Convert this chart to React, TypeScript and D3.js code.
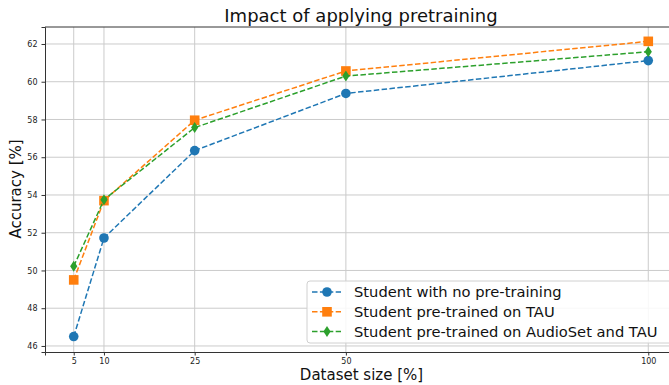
import React, { useEffect, useRef } from 'react';
import * as d3 from 'd3';

const sizes = [5, 10, 25, 50, 100];
const noPretrain = [46.5, 51.72, 56.35, 59.38, 61.12];
const pretrainTAU = [49.5, 53.7, 57.96, 60.57, 62.14];
const pretrainAudioSetTAU = [50.22, 53.75, 57.57, 60.3, 61.59];
const yTicks = [46, 48, 50, 52, 54, 56, 58, 60, 62];
const xTicks = [5, 10, 25, 50, 100];

const seriesNames = [
  'Student with no pre-training',
  'Student pre-trained on TAU',
  'Student pre-trained on AudioSet and TAU',
];
const seriesColors = ['#1f77b4', '#ff7f0e', '#2ca02c'];
const seriesMarkers = ['circle', 'square', 'diamond'];

const W = 669;
const H = 385;

const drawMarker = (g: any, kind: string, x: number, y: number, color: string) => {
  if (kind === 'circle') {
    g.append('circle').attr('cx', x).attr('cy', y).attr('r', 4.8).attr('fill', color);
  } else if (kind === 'square') {
    g.append('rect').attr('x', x - 4.8).attr('y', y - 4.8).attr('width', 9.6).attr('height', 9.6).attr('fill', color);
  } else {
    g.append('path')
      .attr('d', `M${x},${y - 5.5}L${x + 3.6},${y}L${x},${y + 5.5}L${x - 3.6},${y}Z`)
      .attr('fill', color);
  }
};

export default function App() {
  const svgRef = useRef<SVGSVGElement>(null);

  useEffect(() => {
    if (!svgRef.current) return;
    const svg = d3.select(svgRef.current);
    svg.selectAll('*').remove();

    const margin = { top: 27, right: W - 677, bottom: H - 352, left: 45 };
    const innerWidth = W - margin.left - margin.right;
    const innerHeight = H - margin.top - margin.bottom;

    const xScale = d3.scaleLinear().domain([0.25, 104.75]).range([0, innerWidth]);
    const yScale = d3.scaleLinear().domain([45.68, 62.9]).range([innerHeight, 0]);

    const font = 'DejaVu Sans, sans-serif';
    const g = svg.append('g').attr('transform', `translate(${margin.left},${margin.top})`);

    // grid
    g.append('g')
      .selectAll('line')
      .data(yTicks)
      .enter()
      .append('line')
      .attr('x1', 0)
      .attr('x2', innerWidth)
      .attr('y1', (d: number) => yScale(d))
      .attr('y2', (d: number) => yScale(d))
      .attr('stroke', '#cbcbcb')
      .attr('stroke-width', 1);
    g.append('g')
      .selectAll('line')
      .data(xTicks)
      .enter()
      .append('line')
      .attr('x1', (d: number) => xScale(d))
      .attr('x2', (d: number) => xScale(d))
      .attr('y1', 0)
      .attr('y2', innerHeight)
      .attr('stroke', '#cbcbcb')
      .attr('stroke-width', 1);

    // axes
    g.append('g')
      .attr('transform', `translate(0,${innerHeight})`)
      .call(d3.axisBottom(xScale).tickValues(xTicks).tickSize(3.5).tickPadding(3))
      .call((a: any) => a.selectAll('text').attr('fill', '#222').attr('font-size', '8px').attr('font-family', font))
      .call((a: any) => a.selectAll('line').attr('stroke', '#333'))
      .call((a: any) => a.select('.domain').attr('stroke', '#333').attr('stroke-width', 1));

    g.append('g')
      .call(d3.axisLeft(yScale).tickValues(yTicks).tickSize(3.5).tickPadding(4))
      .call((a: any) => a.selectAll('text').attr('fill', '#222').attr('font-size', '8px').attr('font-family', font))
      .call((a: any) => a.selectAll('line').attr('stroke', '#333'))
      .call((a: any) => a.select('.domain').attr('stroke', '#333').attr('stroke-width', 1));

    g.append('line')
      .attr('x1', 0).attr('x2', innerWidth).attr('y1', 0).attr('y2', 0)
      .attr('stroke', '#333').attr('stroke-width', 1);

    // series
    const allSeries = [noPretrain, pretrainTAU, pretrainAudioSetTAU];
    const line = d3.line<number>()
      .x((_d: number, i: number) => xScale(sizes[i]))
      .y((d: number) => yScale(d));

    allSeries.forEach((values, si) => {
      g.append('path')
        .datum(values)
        .attr('d', line)
        .attr('fill', 'none')
        .attr('stroke', seriesColors[si])
        .attr('stroke-width', 1.5)
        .attr('stroke-dasharray', '5.5,2.4');
      const mg = g.append('g');
      values.forEach((v, i) => drawMarker(mg, seriesMarkers[si], xScale(sizes[i]), yScale(v), seriesColors[si]));
    });

    // labels
    svg.append('text')
      .attr('x', 361.5)
      .attr('y', 380)
      .attr('text-anchor', 'middle')
      .attr('font-family', font)
      .style('font-size', '15px')
      .style('fill', '#111')
      .text('Dataset size [%]');

    svg.append('text')
      .attr('transform', `translate(21,${189}) rotate(-90)`)
      .attr('text-anchor', 'middle')
      .attr('font-family', font)
      .style('font-size', '15px')
      .style('fill', '#111')
      .text('Accuracy [%]');

    svg.append('text')
      .attr('x', 361)
      .attr('y', 22)
      .attr('text-anchor', 'middle')
      .attr('font-family', font)
      .style('font-size', '18px')
      .style('fill', '#111')
      .text('Impact of applying pretraining');

    // legend
    const lg = svg.append('g').attr('transform', 'translate(307,281)');
    lg.append('rect')
      .attr('width', 370)
      .attr('height', 62)
      .attr('rx', 3)
      .attr('fill', 'rgba(255,255,255,0.85)')
      .attr('stroke', '#d0d0d0');
    seriesNames.forEach((name, i) => {
      const cy = 11 + i * 19.8;
      lg.append('line')
        .attr('x1', 5).attr('x2', 34).attr('y1', cy).attr('y2', cy)
        .attr('stroke', seriesColors[i])
        .attr('stroke-width', 1.5)
        .attr('stroke-dasharray', '5.5,2.4');
      drawMarker(lg, seriesMarkers[i], 20, cy, seriesColors[i]);
      lg.append('text')
        .attr('x', 47)
        .attr('y', cy + 5)
        .attr('font-family', font)
        .style('font-size', '14.7px')
        .style('fill', '#111')
        .text(name);
    });
  }, []);

  return (
    <svg
      ref={svgRef}
      width={W}
      height={H}
      style={{ position: 'fixed', left: 0, top: 0, display: 'block', background: '#fff' }}
    />
  );
}
